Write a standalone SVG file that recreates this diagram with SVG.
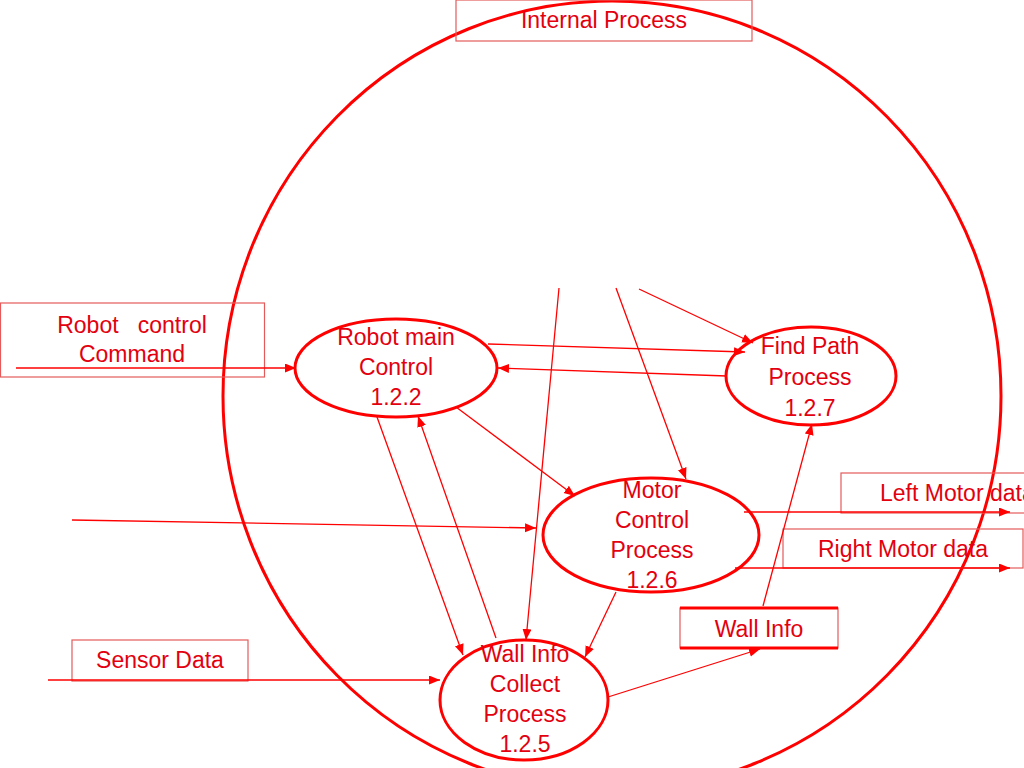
<svg xmlns="http://www.w3.org/2000/svg" width="1024" height="768" viewBox="0 0 1024 768">
<defs>
<style>
.t{font-family:"Liberation Sans",Arial,sans-serif;font-size:23px;fill:#e3000f;text-anchor:middle}
.p{fill:none;stroke:#ff0000;stroke-width:3}
.bx{fill:none;stroke:#e45a5a;stroke-width:1.2}
.c{fill:none;stroke:#ff0000;stroke-width:1.3;marker-end:url(#a)}
</style>
<marker id="a" markerUnits="userSpaceOnUse" markerWidth="12" markerHeight="10" refX="11" refY="4.5" orient="auto">
<path d="M0,0 L11,4.5 L0,9 Z" fill="#ff0000"/>
</marker>
</defs>
<rect width="1024" height="768" fill="#fff"/>
<g id="boundary">
<ellipse cx="612" cy="396" rx="389" ry="395" fill="none" stroke="#ff0000" stroke-width="3"/>
</g>
<g id="internal-process-label">
<rect class="bx" x="456" y="0" width="296" height="41"/>
<text class="t" x="604" y="28">Internal Process</text>
</g>
<g id="robot-control-command">
<rect class="bx" x="0.5" y="303" width="264" height="74"/>
<text class="t" x="132" y="333" style="white-space:pre" xml:space="preserve">Robot   control</text>
<text class="t" x="132" y="362">Command</text>
</g>
<g id="sensor-data">
<rect class="bx" x="72" y="640" width="176" height="41"/>
<text class="t" x="160" y="668">Sensor Data</text>
</g>
<g id="left-motor-data">
<rect class="bx" x="841" y="473" width="200" height="40"/>
<text class="t" x="880" y="501" style="text-anchor:start">Left Motor data</text>
</g>
<g id="right-motor-data">
<rect class="bx" x="783" y="529" width="240" height="39"/>
<text class="t" x="903" y="557">Right Motor data</text>
</g>
<g id="wall-info-store">
<rect class="bx" x="680" y="608" width="158" height="40"/>
<line x1="680" y1="608" x2="838" y2="608" stroke="#ff0000" stroke-width="3"/>
<line x1="680" y1="648" x2="838" y2="648" stroke="#ff0000" stroke-width="3"/>
<text class="t" x="759" y="637">Wall Info</text>
</g>
<g id="connectors">
<line class="c" x1="16" y1="368" x2="296" y2="368"/>
<line class="c" x1="488" y1="344" x2="745" y2="352"/>
<line class="c" x1="727" y1="376" x2="498" y2="368"/>
<line class="c" x1="639" y1="289" x2="753" y2="343"/>
<line class="c" x1="616" y1="288" x2="686" y2="479"/>
<line class="c" x1="559" y1="288" x2="526" y2="640"/>
<line class="c" x1="456" y1="407" x2="575" y2="496"/>
<line class="c" x1="377" y1="417" x2="463" y2="655"/>
<line class="c" x1="496" y1="638" x2="418" y2="416"/>
<line class="c" x1="72" y1="520" x2="536" y2="528"/>
<line class="c" x1="616" y1="592" x2="585" y2="657"/>
<line class="c" x1="744" y1="512" x2="1010" y2="512"/>
<line class="c" x1="735" y1="568" x2="1010" y2="568"/>
<line class="c" x1="608" y1="697" x2="760" y2="649"/>
<line class="c" x1="763" y1="606" x2="812" y2="424"/>
<line class="c" x1="48" y1="680" x2="440" y2="680"/>
</g>
<g id="robot-main-control">
<ellipse class="p" cx="396" cy="368" rx="101" ry="49"/>
<text class="t" x="396" y="345">Robot main</text>
<text class="t" x="396" y="375">Control</text>
<text class="t" x="396" y="405">1.2.2</text>
</g>
<g id="find-path-process">
<ellipse class="p" cx="811" cy="376" rx="85" ry="49"/>
<text class="t" x="810" y="354">Find Path</text>
<text class="t" x="810" y="385">Process</text>
<text class="t" x="810" y="416">1.2.7</text>
</g>
<g id="motor-control-process">
<ellipse class="p" cx="651" cy="535" rx="108" ry="57"/>
<text class="t" x="652" y="498">Motor</text>
<text class="t" x="652" y="528">Control</text>
<text class="t" x="652" y="558">Process</text>
<text class="t" x="652" y="588">1.2.6</text>
</g>
<g id="wall-info-collect-process">
<ellipse class="p" cx="524" cy="700" rx="84" ry="60"/>
<text class="t" x="525" y="662">Wall Info</text>
<text class="t" x="525" y="692">Collect</text>
<text class="t" x="525" y="722">Process</text>
<text class="t" x="525" y="752">1.2.5</text>
</g>
</svg>
